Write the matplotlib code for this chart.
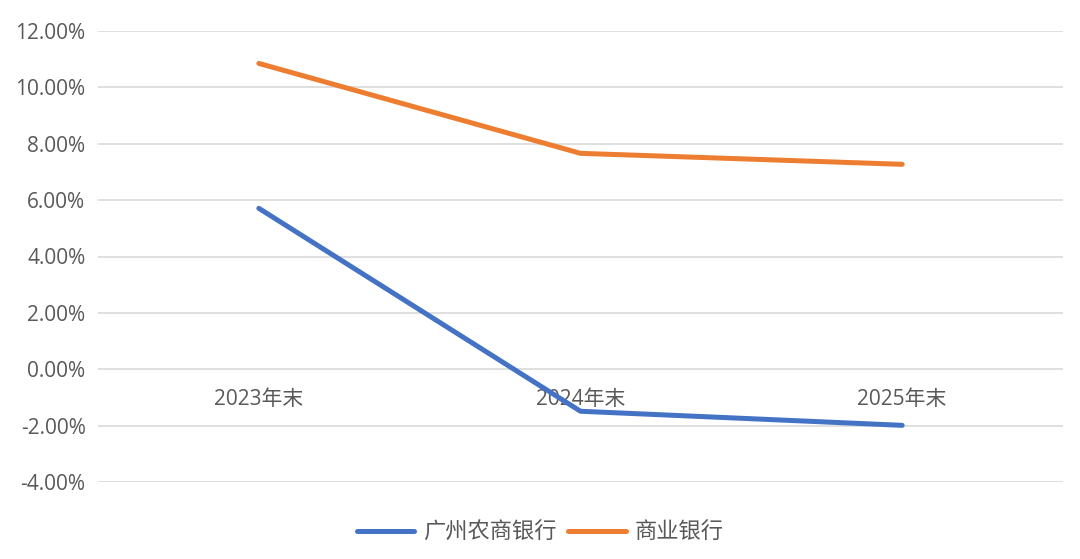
import matplotlib
matplotlib.use("Agg")
import matplotlib.pyplot as plt
from matplotlib.ticker import FuncFormatter

plt.rcParams['font.family'] = ['Open Sans', 'Noto Sans CJK SC', 'DejaVu Sans']

categories = ["2023年末", "2024年末", "2025年末"]
gznsh = [5.71, -1.49, -1.99]
commercial = [10.85, 7.66, 7.27]
series_names = ["广州农商银行", "商业银行"]
yticks = [-4, -2, 0, 2, 4, 6, 8, 10, 12]

fig = plt.figure(figsize=(10.8, 5.59), dpi=100)
ax = fig.add_axes([98/1080, 1-482/559, (1063-98)/1080, (482-31)/559])

x = list(range(len(categories)))
ax.plot(x, gznsh, color='#4472C4', lw=3.6, label=series_names[0], solid_capstyle='round')
ax.plot(x, commercial, color='#ED7D31', lw=3.6, label=series_names[1], solid_capstyle='round')

ax.set_xlim(-0.5, 2.5)
ax.set_ylim(-4, 12)
ax.set_yticks(yticks)
ax.yaxis.set_major_formatter(FuncFormatter(lambda v, p: f"{v:.2f}%"))
ax.grid(axis='y', color='#D9D9D9', lw=1.2)
ax.set_axisbelow(True)
for s in ax.spines.values():
    s.set_visible(False)
ax.spines['bottom'].set_position(('data', 0))
ax.set_xticks(x)
ax.set_xticklabels(categories)
ax.tick_params(axis='x', length=0, pad=14, labelsize=15, labelcolor='#595959')
ax.tick_params(axis='y', length=0, pad=9, labelsize=15, labelcolor='#595959')

leg = fig.legend(loc='center', bbox_to_anchor=(0.5, 1-533/559), ncol=2, frameon=False,
                 fontsize=16, handlelength=2.6, handletextpad=0.4, columnspacing=0.5)
for t in leg.get_texts():
    t.set_color('#595959')

fig.savefig('out.png', dpi=100)
